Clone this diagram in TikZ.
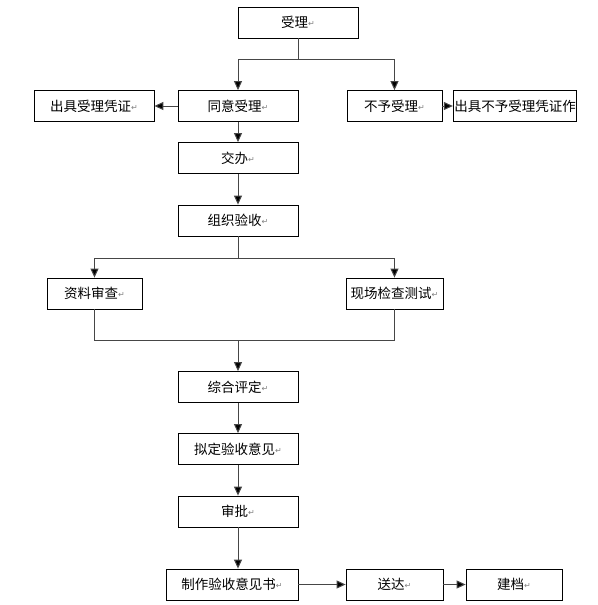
\documentclass[tikz,border=0pt]{standalone}
\usepackage{fontspec}
\usepackage{tikz}
\usetikzlibrary{arrows.meta, positioning, calc}
\newfontfamily\cjk{Noto Sans CJK SC}
\newfontfamily\symfont{DejaVu Sans}
\definecolor{lineGray}{RGB}{70,70,70}
\newcommand{\retmark}{{\symfont\fontsize{8}{8}\selectfont\color{gray}\raisebox{0.2ex}{↵}}}

\begin{document}
\begin{tikzpicture}[x=1pt, y=-1pt,
  every node/.style={font=\cjk\fontsize{13.5}{16}\selectfont},
  box/.style={draw, line width=0.8pt, minimum width=120, minimum height=31, inner sep=1pt},
  line/.style={draw=lineGray, line width=1pt},
  arr/.style={line, -{Triangle[length=9pt, width=8pt, fill=black]}}]
  \useasboundingbox (0,0) rectangle (597,605);
  % top row  y=7..38
  \node[box] (shouli) at (298,22.5){受理\retmark};
  % second row  y=90..122
  \node[box] (chuju) at (94,106){出具受理凭证\retmark};
  \node[box] (tongyi) at (238,106){同意受理\retmark};
  \node[box, minimum width=95] (buyu) at (394.5,106){不予受理\retmark};
  \node[box] (chujubuyu) at (515,106){出具不予受理凭证作};
  % main column  x centre 238
  \node[box] (jiaoban) at (238,158){交办\retmark};
  \node[box] (zuzhi) at (238,220.5){组织验收\retmark};
  \node[box, minimum width=95] (ziliao) at (94.5,293.5){资料审查\retmark};
  \node[box, minimum width=97] (xianchang) at (394.5,293.5){现场检查测试\retmark};
  \node[box] (zonghe) at (238,387){综合评定\retmark};
  \node[box] (niding) at (238,449){拟定验收意见\retmark};
  \node[box] (shenpi) at (238,511.5){审批\retmark};
  % bottom row  y=569..600
  \node[box, minimum width=132] (zhizuo) at (232,584.5){制作验收意见书\retmark};
  \node[box, minimum width=97] (songda) at (394.5,584.5){送达\retmark};
  \node[box, minimum width=96] (jiandang) at (514,584.5){建档\retmark};
  % junctions
  \coordinate (j1) at (298,59);
  \coordinate (j2) at (238,258);
  \coordinate (j3) at (238,340);
  % connectors
  \draw[line] (shouli) -- (j1);
  \draw[arr] (j1) -| (tongyi);
  \draw[arr] (j1) -| (buyu);
  \draw[arr] (tongyi) -- (chuju);
  \draw[arr] (buyu) -- (chujubuyu);
  \draw[arr] (tongyi) -- (jiaoban);
  \draw[arr] (jiaoban) -- (zuzhi);
  \draw[line] (zuzhi) -- (j2);
  \draw[arr] (j2) -| (ziliao);
  \draw[arr] (j2) -| (xianchang);
  \draw[line] (ziliao) |- (j3);
  \draw[line] (xianchang) |- (j3);
  \draw[arr] (j3) -- (zonghe);
  \draw[arr] (zonghe) -- (niding);
  \draw[arr] (niding) -- (shenpi);
  \draw[arr] (shenpi.south) -- (shenpi.south |- zhizuo.north);
  \draw[arr] (zhizuo) -- (songda);
  \draw[arr] (songda) -- (jiandang);
\end{tikzpicture}
\end{document}
